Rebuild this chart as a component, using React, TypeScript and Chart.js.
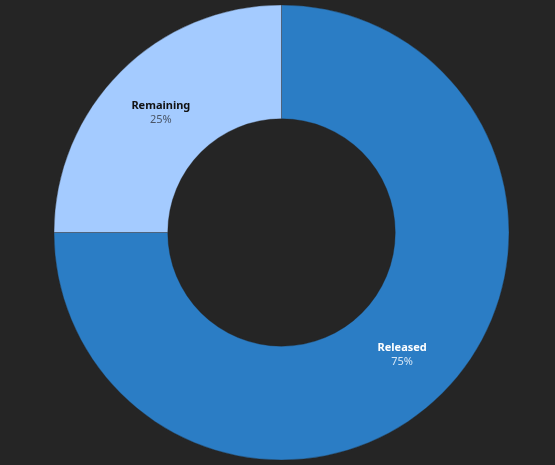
import { ArcElement, Chart, DoughnutController, Plugin } from "chart.js";
import React, { useEffect, useRef } from "react";

Chart.register(ArcElement, DoughnutController);

// chart data
const labels = ["Released", "Remaining"];
const values = [75, 25];
const sliceColours = ["#2b7dc5", "#a4cbff"];
const labelColours = ["#ffffff", "#111111"];
const pctColours = ["#d6e6f5", "#4a5668"];

const FONT = "'Noto Sans', 'Open Sans', sans-serif";

// draws name + percentage in the middle of each slice
const sliceLabels: Plugin<"doughnut"> = {
  id: "sliceLabels",
  afterDatasetsDraw(chart) {
    const ctx = chart.ctx;
    const meta = chart.getDatasetMeta(0);
    const total = values.reduce((a, b) => a + b, 0);
    ctx.save();
    ctx.textAlign = "center";
    ctx.textBaseline = "middle";
    meta.data.forEach((arc, i) => {
      const { x, y } = arc.tooltipPosition(false);
      ctx.font = `bold 11px ${FONT}`;
      ctx.fillStyle = labelColours[i];
      ctx.fillText(labels[i], x, y - 5.5);
      ctx.font = `11px ${FONT}`;
      ctx.fillStyle = pctColours[i];
      ctx.fillText(Math.round((values[i] / total) * 100) + "%", x, y + 8.5);
    });
    ctx.restore();
  },
};

const App: React.FC = () => {
  const chartRef = useRef<HTMLCanvasElement | null>(null);
  const chartInstance = useRef<Chart | null>(null);

  useEffect(() => {
    document.body.style.margin = "0";
    document.body.style.background = "#252525";

    if (chartInstance.current) {
      chartInstance.current.destroy();
    }

    if (chartRef.current) {
      chartInstance.current = new Chart(chartRef.current, {
        type: "doughnut",
        data: {
          labels,
          datasets: [
            {
              data: values,
              backgroundColor: sliceColours,
              borderColor: "rgba(37,37,37,0.35)",
              borderWidth: 1,
              hoverOffset: 0,
            },
          ],
        },
        options: {
          animation: false,
          responsive: true,
          maintainAspectRatio: false,
          cutout: "50%",
          layout: { padding: 4.5 },
          plugins: {
            legend: { display: false },
            tooltip: { enabled: false },
          },
        },
        plugins: [sliceLabels],
      });
    }

    return () => {
      if (chartInstance.current) {
        chartInstance.current.destroy();
        chartInstance.current = null;
      }
    };
  }, []);

  return (
    <div style={{ width: 555, height: 465, background: "#252525", paddingLeft: 8, boxSizing: "border-box" }}>
      <div style={{ position: "relative", width: 547, height: 465 }}>
        <canvas ref={chartRef}></canvas>
      </div>
    </div>
  );
};

export default App;
